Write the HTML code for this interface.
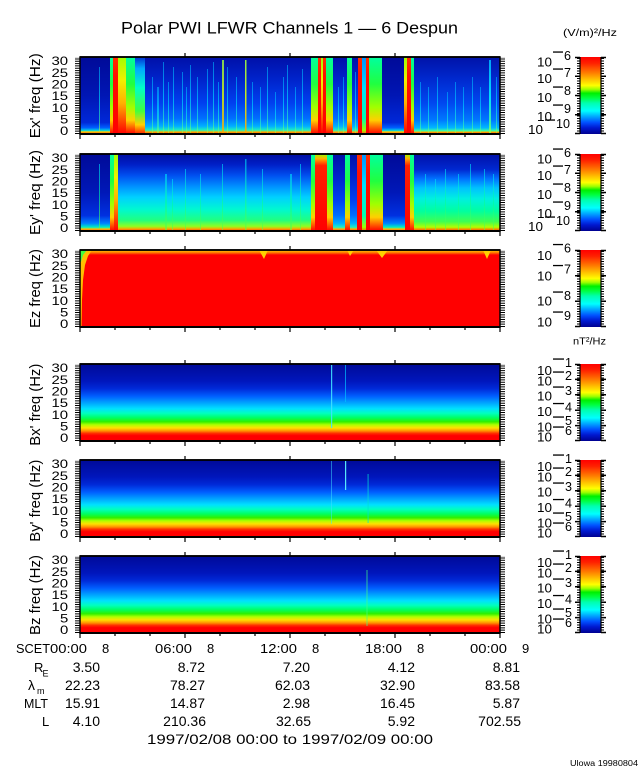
<!DOCTYPE html>
<html><head><meta charset="utf-8">
<style>
html,body{margin:0;padding:0;background:#fff;}
svg{display:block;}
text{font-family:"Liberation Sans",sans-serif;fill:#000;}
</style></head><body>
<svg width="640" height="768" viewBox="0 0 640 768" xmlns="http://www.w3.org/2000/svg">
<defs>
<linearGradient id="cbar" x1="0" y1="0" x2="0" y2="1">
<stop offset="0" stop-color="#ff0000"/><stop offset="0.08" stop-color="#ff2000"/><stop offset="0.2" stop-color="#ff7800"/><stop offset="0.3" stop-color="#ffc800"/><stop offset="0.37" stop-color="#ffff00"/><stop offset="0.42" stop-color="#a0ff00"/><stop offset="0.47" stop-color="#00f000"/><stop offset="0.53" stop-color="#00ff40"/><stop offset="0.6" stop-color="#00ffb0"/><stop offset="0.7" stop-color="#00ffff"/><stop offset="0.78" stop-color="#00a0ff"/><stop offset="0.85" stop-color="#0050ff"/><stop offset="0.92" stop-color="#0018d0"/><stop offset="1" stop-color="#000090"/>
</linearGradient>
<linearGradient id="bX" x1="0" y1="0" x2="0" y2="1">
<stop offset="0" stop-color="#000a98"/><stop offset="0.22" stop-color="#0016bc"/><stop offset="0.32" stop-color="#002ad8"/><stop offset="0.42" stop-color="#0060ff"/><stop offset="0.5" stop-color="#00a0ff"/><stop offset="0.58" stop-color="#00e0ff"/><stop offset="0.64" stop-color="#00ffc0"/><stop offset="0.7" stop-color="#00ff60"/><stop offset="0.75" stop-color="#30f000"/><stop offset="0.79" stop-color="#b0ff00"/><stop offset="0.83" stop-color="#ffe000"/><stop offset="0.87" stop-color="#ff9000"/><stop offset="0.9" stop-color="#ff3000"/><stop offset="0.93" stop-color="#ff0000"/><stop offset="1" stop-color="#ff0000"/>
</linearGradient>
<linearGradient id="qA" x1="0" y1="0" x2="0" y2="1">
<stop offset="0" stop-color="#000a98"/><stop offset="0.5" stop-color="#0016b4"/><stop offset="0.85" stop-color="#0028d8"/><stop offset="0.92" stop-color="#0060ff"/><stop offset="0.955" stop-color="#00d8e0"/><stop offset="0.972" stop-color="#ffd000"/><stop offset="1" stop-color="#ff3000"/>
</linearGradient>
<linearGradient id="mA" x1="0" y1="0" x2="0" y2="1">
<stop offset="0" stop-color="#0010a8"/><stop offset="0.3" stop-color="#0024cc"/><stop offset="0.6" stop-color="#0040f0"/><stop offset="0.8" stop-color="#0070ff"/><stop offset="0.9" stop-color="#00b0ff"/><stop offset="0.95" stop-color="#20f0c0"/><stop offset="0.975" stop-color="#ffb000"/><stop offset="1" stop-color="#ff2000"/>
</linearGradient>
<linearGradient id="rA" x1="0" y1="0" x2="0" y2="1">
<stop offset="0" stop-color="#0012a8"/><stop offset="0.3" stop-color="#002ad0"/><stop offset="0.6" stop-color="#0048f0"/><stop offset="0.82" stop-color="#0078ff"/><stop offset="0.92" stop-color="#00b8ff"/><stop offset="0.96" stop-color="#40ffa0"/><stop offset="0.975" stop-color="#ffb000"/><stop offset="1" stop-color="#ff2000"/>
</linearGradient>
<linearGradient id="red" x1="0" y1="0" x2="0" y2="1">
<stop offset="0" stop-color="#ff3000"/><stop offset="0.25" stop-color="#ff1000"/><stop offset="1" stop-color="#ff0000"/>
</linearGradient>
<linearGradient id="redT" x1="0" y1="0" x2="0" y2="1">
<stop offset="0" stop-color="#90ff00"/><stop offset="0.06" stop-color="#ffb000"/><stop offset="0.15" stop-color="#ff2000"/><stop offset="1" stop-color="#ff0000"/>
</linearGradient>
<linearGradient id="grn" x1="0" y1="0" x2="0" y2="1">
<stop offset="0" stop-color="#00ffa0"/><stop offset="0.35" stop-color="#20ff40"/><stop offset="0.65" stop-color="#a0ff00"/><stop offset="0.82" stop-color="#ffd000"/><stop offset="0.93" stop-color="#ff5000"/><stop offset="1" stop-color="#ff0000"/>
</linearGradient>
<linearGradient id="yel" x1="0" y1="0" x2="0" y2="1">
<stop offset="0" stop-color="#a0ff00"/><stop offset="0.3" stop-color="#f0f000"/><stop offset="0.6" stop-color="#ffb000"/><stop offset="0.85" stop-color="#ff4000"/><stop offset="1" stop-color="#ff0000"/>
</linearGradient>
<linearGradient id="gcl" x1="0" y1="0" x2="0" y2="1">
<stop offset="0" stop-color="#0030d0"/><stop offset="0.15" stop-color="#00a8ff"/><stop offset="0.4" stop-color="#00ffc8"/><stop offset="0.7" stop-color="#40ff40"/><stop offset="0.88" stop-color="#ffd000"/><stop offset="1" stop-color="#ff2000"/>
</linearGradient>
<linearGradient id="cyn" x1="0" y1="0" x2="0" y2="1">
<stop offset="0" stop-color="#0090ff"/><stop offset="0.4" stop-color="#00e0ff"/><stop offset="0.8" stop-color="#00ffb0"/><stop offset="0.95" stop-color="#a0ff00"/><stop offset="1" stop-color="#ff6000"/>
</linearGradient>
<linearGradient id="qB" x1="0" y1="0" x2="0" y2="1">
<stop offset="0" stop-color="#000a98"/><stop offset="0.5" stop-color="#0018b8"/><stop offset="0.8" stop-color="#0030e0"/><stop offset="0.9" stop-color="#0080ff"/><stop offset="0.95" stop-color="#00f0c0"/><stop offset="0.975" stop-color="#ffc000"/><stop offset="1" stop-color="#ff3000"/>
</linearGradient>
<linearGradient id="mB" x1="0" y1="0" x2="0" y2="1">
<stop offset="0" stop-color="#000ea0"/><stop offset="0.14" stop-color="#0020c8"/><stop offset="0.28" stop-color="#0050f0"/><stop offset="0.42" stop-color="#0090ff"/><stop offset="0.56" stop-color="#00d0ff"/><stop offset="0.72" stop-color="#00f8d0"/><stop offset="0.86" stop-color="#20ff80"/><stop offset="0.94" stop-color="#90ff20"/><stop offset="0.975" stop-color="#ffa000"/><stop offset="1" stop-color="#ff2000"/>
</linearGradient>
<linearGradient id="rB" x1="0" y1="0" x2="0" y2="1">
<stop offset="0" stop-color="#0010a8"/><stop offset="0.2" stop-color="#0028d0"/><stop offset="0.32" stop-color="#0070ff"/><stop offset="0.44" stop-color="#00c0ff"/><stop offset="0.58" stop-color="#00f0e0"/><stop offset="0.74" stop-color="#00ffa0"/><stop offset="0.88" stop-color="#40ff50"/><stop offset="0.95" stop-color="#b0ff00"/><stop offset="0.98" stop-color="#ff8000"/><stop offset="1" stop-color="#ff2000"/>
</linearGradient>
<linearGradient id="stk" x1="0" y1="0" x2="0" y2="1">
<stop offset="0" stop-color="#00b0ff"/><stop offset="0.5" stop-color="#00f0ff"/><stop offset="0.85" stop-color="#40ffa0"/><stop offset="1" stop-color="#a0ff40"/>
</linearGradient>
<linearGradient id="stk2" x1="0" y1="0" x2="0" y2="1">
<stop offset="0" stop-color="#00e0ff"/><stop offset="0.5" stop-color="#00ffa0"/><stop offset="1" stop-color="#60ff40"/>
</linearGradient>
<linearGradient id="stkY" x1="0" y1="0" x2="0" y2="1">
<stop offset="0" stop-color="#a0ff40"/><stop offset="0.5" stop-color="#e0ff00"/><stop offset="1" stop-color="#ffa000"/>
</linearGradient>
<linearGradient id="ezT" x1="0" y1="0" x2="0" y2="1">
<stop offset="0" stop-color="#ffd000"/><stop offset="0.5" stop-color="#ff8000"/><stop offset="1" stop-color="#ff0000"/>
</linearGradient>

<g id="ax">
<rect x="80" y="0" width="420" height="77" fill="none" stroke="#000" stroke-width="1.5"/>
<line x1="80" y1="77" x2="500" y2="77" stroke="#000" stroke-width="2"/>
<line x1="80" y1="0" x2="500" y2="0" stroke="#000" stroke-width="1.8"/>
<line x1="77.5" y1="77" x2="77.5" y2="0" stroke="#000" stroke-width="5" stroke-dasharray="1 1.33"/>
<line x1="502.5" y1="77" x2="502.5" y2="0" stroke="#000" stroke-width="5" stroke-dasharray="1 1.33"/>
<path d="M80,77v5M115,77v3M150,77v3M185,77v5M220,77v3M255,77v3M290,77v5M325,77v3M360,77v3M395,77v5M430,77v3M465,77v3M500,77v5M185,0v-4M290,0v-4M395,0v-4" stroke="#000" stroke-width="1.2" fill="none"/>
<g font-size="11.5">
<text x="51.5" y="8.2" textLength="16.6" lengthAdjust="spacingAndGlyphs">30</text>
<text x="51.5" y="19.9" textLength="16.6" lengthAdjust="spacingAndGlyphs">25</text>
<text x="51.5" y="31.5" textLength="16.6" lengthAdjust="spacingAndGlyphs">20</text>
<text x="51.5" y="43.2" textLength="16.6" lengthAdjust="spacingAndGlyphs">15</text>
<text x="51.5" y="54.9" textLength="16.6" lengthAdjust="spacingAndGlyphs">10</text>
<text x="60" y="66.5" textLength="8.3" lengthAdjust="spacingAndGlyphs">5</text>
<text x="60" y="78" textLength="8.3" lengthAdjust="spacingAndGlyphs">0</text>
</g>
</g>

<g id="cb">
<rect x="580" y="0" width="21" height="77" fill="url(#cbar)"/>
<line x1="580" y1="0" x2="580" y2="77" stroke="#000" stroke-width="1.2"/>
<line x1="601" y1="0" x2="601" y2="77" stroke="#000" stroke-width="1.2"/>
<line x1="578.5" y1="77" x2="578.5" y2="0" stroke="#000" stroke-width="3" stroke-dasharray="1 1.5"/>
<line x1="602.5" y1="77" x2="602.5" y2="0" stroke="#000" stroke-width="3" stroke-dasharray="1 1.5"/>
</g>

<g id="elab" font-size="13">
<path d="M575,0.5h5M601,0.5h5M575,19.25h5M601,19.25h5M575,38.5h5M601,38.5h5M575,57.75h5M601,57.75h5M575,76.5h5M601,76.5h5" stroke="#000" stroke-width="1.5"/>
<text x="537" y="9.7" textLength="15" lengthAdjust="spacingAndGlyphs">10</text>
<rect x="553" y="-5.6" width="10" height="1.3"/><text x="564" y="3" textLength="7" lengthAdjust="spacingAndGlyphs">6</text>
<text x="537" y="26" textLength="15" lengthAdjust="spacingAndGlyphs">10</text>
<rect x="553" y="11.4" width="10" height="1.3"/><text x="564" y="20" textLength="7" lengthAdjust="spacingAndGlyphs">7</text>
<text x="537" y="45" textLength="15" lengthAdjust="spacingAndGlyphs">10</text>
<rect x="553" y="29.4" width="10" height="1.3"/><text x="564" y="38" textLength="7" lengthAdjust="spacingAndGlyphs">8</text>
<text x="537" y="64" textLength="15" lengthAdjust="spacingAndGlyphs">10</text>
<rect x="553" y="47.4" width="10" height="1.3"/><text x="564" y="56" textLength="7" lengthAdjust="spacingAndGlyphs">9</text>
<text x="528" y="77" textLength="15" lengthAdjust="spacingAndGlyphs">10</text>
<rect x="545" y="62.4" width="10" height="1.3"/><text x="556" y="71" textLength="14" lengthAdjust="spacingAndGlyphs">10</text>
</g>

<g id="blab" font-size="13">
<path d="M575,0.5h5M601,0.5h5M575,15.4h5M601,15.4h5M575,30.8h5M601,30.8h5M575,46.2h5M601,46.2h5M575,61.6h5M601,61.6h5M575,76.5h5M601,76.5h5" stroke="#000" stroke-width="1.5"/>
<text x="537" y="11" textLength="15" lengthAdjust="spacingAndGlyphs">10</text>
<rect x="553" y="-5.6" width="11" height="1.3"/><text x="565" y="3" textLength="7" lengthAdjust="spacingAndGlyphs">1</text>
<text x="537" y="21.5" textLength="15" lengthAdjust="spacingAndGlyphs">10</text>
<rect x="553" y="7.4" width="11" height="1.3"/><text x="565" y="16" textLength="7" lengthAdjust="spacingAndGlyphs">2</text>
<text x="537" y="36.5" textLength="15" lengthAdjust="spacingAndGlyphs">10</text>
<rect x="553" y="22.4" width="11" height="1.3"/><text x="565" y="31" textLength="7" lengthAdjust="spacingAndGlyphs">3</text>
<text x="537" y="52" textLength="15" lengthAdjust="spacingAndGlyphs">10</text>
<rect x="553" y="38.9" width="11" height="1.3"/><text x="565" y="47.5" textLength="7" lengthAdjust="spacingAndGlyphs">4</text>
<text x="537" y="67.5" textLength="15" lengthAdjust="spacingAndGlyphs">10</text>
<rect x="553" y="52.4" width="11" height="1.3"/><text x="565" y="61" textLength="7" lengthAdjust="spacingAndGlyphs">5</text>
<text x="537" y="77.5" textLength="15" lengthAdjust="spacingAndGlyphs">10</text>
<rect x="553" y="62.4" width="11" height="1.3"/><text x="565" y="71" textLength="7" lengthAdjust="spacingAndGlyphs">6</text>
</g>
</defs>

<rect width="640" height="768" fill="#fff"/>

<!-- Title and units -->
<text x="121" y="33.3" font-size="17" textLength="337" lengthAdjust="spacingAndGlyphs">Polar PWI LFWR Channels 1 — 6 Despun</text>
<text x="563" y="36" font-size="10" textLength="54" lengthAdjust="spacingAndGlyphs">(V/m)²/Hz</text>
<text x="573" y="344.5" font-size="10" textLength="33" lengthAdjust="spacingAndGlyphs">nT²/Hz</text>

<!-- Panel 1: Ex' -->
<g transform="translate(0,57)">
<rect x="80" y="0" width="30" height="77" fill="url(#qA)"/>
<rect x="110" y="0" width="3" height="77" fill="url(#grn)"/>
<rect x="113" y="0" width="5" height="77" fill="url(#red)"/>
<rect x="118" y="0" width="8" height="77" fill="url(#yel)"/>
<rect x="126" y="0" width="9" height="77" fill="url(#grn)"/>
<rect x="135" y="0" width="10" height="77" fill="url(#gcl)"/>
<rect x="145" y="0" width="166" height="77" fill="url(#mA)"/>
<rect x="311" y="0" width="7" height="77" fill="url(#grn)"/>
<rect x="318" y="0" width="3" height="77" fill="url(#red)"/>
<rect x="321" y="0" width="2" height="77" fill="url(#yel)"/>
<rect x="323" y="0" width="3" height="77" fill="url(#red)"/>
<rect x="326" y="0" width="7" height="77" fill="url(#grn)"/>
<rect x="333" y="0" width="14" height="77" fill="url(#mA)"/>
<rect x="347" y="0" width="5" height="77" fill="url(#grn)"/>
<rect x="352" y="0" width="6" height="77" fill="url(#mA)"/>
<rect x="358" y="0" width="4" height="77" fill="url(#red)"/>
<rect x="362" y="0" width="4" height="77" fill="url(#cyn)"/>
<rect x="366" y="0" width="3" height="77" fill="url(#red)"/>
<rect x="369" y="0" width="3" height="77" fill="url(#grn)"/>
<rect x="372" y="0" width="10" height="77" fill="url(#grn)"/>
<rect x="382" y="0" width="22" height="77" fill="url(#qA)"/>
<rect x="404" y="0" width="3" height="77" fill="url(#yel)"/>
<rect x="407" y="0" width="4" height="77" fill="url(#red)"/>
<rect x="411" y="0" width="3" height="77" fill="url(#grn)"/>
<rect x="414" y="0" width="86" height="77" fill="url(#rA)"/>
<g fill="url(#stk)" opacity="0.6">
<rect x="99" y="10" width="1" height="64"/>
<rect x="152" y="20" width="1" height="57"/><rect x="157" y="30" width="2" height="47"/><rect x="163" y="5" width="1" height="72"/>
<rect x="168" y="25" width="1" height="52"/><rect x="173" y="10" width="1" height="67"/><rect x="182" y="15" width="1" height="62"/>
<rect x="186" y="30" width="1" height="47"/><rect x="190" y="8" width="1" height="69"/><rect x="197" y="20" width="1" height="57"/>
<rect x="207" y="12" width="1" height="65"/><rect x="213" y="5" width="1" height="72"/><rect x="218" y="25" width="1" height="52"/>
<rect x="227" y="10" width="1" height="67"/><rect x="236" y="20" width="1" height="57"/>
<rect x="252" y="25" width="1" height="52"/><rect x="260" y="30" width="1" height="47"/><rect x="267" y="10" width="1" height="67"/>
<rect x="275" y="35" width="1" height="42"/><rect x="283" y="20" width="1" height="57"/><rect x="287" y="8" width="1" height="69"/>
<rect x="295" y="30" width="1" height="47"/><rect x="302" y="12" width="1" height="65"/>
<rect x="338" y="30" width="1" height="47"/><rect x="343" y="20" width="1" height="57"/><rect x="355" y="15" width="1" height="62"/>
<rect x="420" y="25" width="1" height="52"/><rect x="428" y="30" width="1" height="47"/><rect x="437" y="20" width="1" height="57"/>
<rect x="447" y="35" width="1" height="42"/><rect x="455" y="25" width="1" height="52"/><rect x="463" y="30" width="1" height="47"/>
<rect x="472" y="20" width="1" height="57"/><rect x="480" y="30" width="1" height="47"/><rect x="496" y="20" width="1" height="57"/>
</g>
<rect x="222" y="3" width="2" height="74" fill="url(#stkY)" opacity="0.8"/>
<rect x="245" y="3" width="1.5" height="74" fill="url(#stkY)" opacity="0.9"/>
<rect x="489" y="3" width="2" height="74" fill="url(#stk)" opacity="0.9"/>
</g>
<use href="#ax" y="57"/>
<use href="#cb" y="57"/>
<use href="#elab" y="57"/>
<text transform="translate(40,138.3) rotate(-90)" font-size="15" textLength="85" lengthAdjust="spacingAndGlyphs">Ex' freq (Hz)</text>

<!-- Panel 2: Ey' -->
<g transform="translate(0,154)">
<rect x="80" y="0" width="30" height="77" fill="url(#qB)"/>
<rect x="110" y="0" width="4" height="77" fill="url(#grn)"/>
<rect x="114" y="0" width="4" height="77" fill="url(#yel)"/>
<rect x="118" y="0" width="193" height="77" fill="url(#mB)"/>
<rect x="311" y="0" width="4" height="77" fill="url(#grn)"/>
<rect x="315" y="0" width="12" height="77" fill="url(#redT)"/>
<rect x="327" y="0" width="6" height="77" fill="url(#grn)"/>
<rect x="333" y="0" width="12" height="77" fill="url(#mA)"/>
<rect x="345" y="0" width="5" height="77" fill="url(#grn)"/>
<rect x="350" y="0" width="7" height="77" fill="url(#mA)"/>
<rect x="357" y="0" width="5" height="77" fill="url(#red)"/>
<rect x="362" y="0" width="4" height="77" fill="url(#cyn)"/>
<rect x="366" y="0" width="4" height="77" fill="url(#red)"/>
<rect x="370" y="0" width="3" height="77" fill="url(#grn)"/>
<rect x="373" y="0" width="10" height="77" fill="url(#grn)"/>
<rect x="383" y="0" width="22" height="77" fill="url(#qB)"/>
<rect x="405" y="0" width="5" height="77" fill="url(#redT)"/>
<rect x="410" y="0" width="4" height="77" fill="url(#grn)"/>
<rect x="414" y="0" width="86" height="77" fill="url(#rB)"/>
<g fill="url(#stk2)" opacity="0.6">
<rect x="99" y="10" width="1" height="64"/>
<rect x="165" y="20" width="2" height="57"/><rect x="172" y="25" width="1" height="52"/><rect x="185" y="15" width="1" height="62"/>
<rect x="200" y="20" width="1" height="57"/><rect x="222" y="10" width="1" height="67"/><rect x="245" y="5" width="1.5" height="72"/>
<rect x="262" y="15" width="1" height="62"/><rect x="290" y="20" width="2" height="57"/><rect x="300" y="10" width="1" height="67"/>
<rect x="425" y="20" width="1" height="57"/><rect x="435" y="25" width="1" height="52"/><rect x="445" y="15" width="1" height="62"/>
<rect x="458" y="20" width="1" height="57"/><rect x="470" y="10" width="1" height="67"/><rect x="484" y="15" width="1" height="62"/>
<rect x="493" y="20" width="1" height="57"/>
</g>
</g>
<use href="#ax" y="154"/>
<use href="#cb" y="154"/>
<use href="#elab" y="154"/>
<text transform="translate(40,235) rotate(-90)" font-size="15" textLength="85" lengthAdjust="spacingAndGlyphs">Ey' freq (Hz)</text>

<!-- Panel 3: Ez -->
<g transform="translate(0,250)">
<rect x="80" y="0" width="420" height="77" fill="#ff0000"/>
<rect x="80" y="0" width="420" height="5" fill="url(#ezT)"/>
<polygon points="80,0 92,0 88,6 85,15 83,30 82,50 81.5,77 80,77" fill="#ffc000"/>
<polygon points="80,0 87,0 83,5 81,12 80,12" fill="#40ff40"/>
<polygon points="259,0 268,0 264,9" fill="#ffd000"/>
<polygon points="347,0 354,0 350,6" fill="#ffd000"/>
<polygon points="376,0 388,0 382,8" fill="#ffd000"/>
<polygon points="483,0 491,0 487,9" fill="#ffd000"/>
</g>
<use href="#ax" y="250"/>
<use href="#cb" y="250"/>
<g transform="translate(0,250)" font-size="13">
<path d="M575,0.5h5M601,0.5h5M575,25.7h5M601,25.7h5M575,51.3h5M601,51.3h5M575,76.5h5M601,76.5h5" stroke="#000" stroke-width="1.5"/>
<text x="537" y="10" textLength="15" lengthAdjust="spacingAndGlyphs">10</text>
<rect x="553" y="-6.1" width="10" height="1.3"/><text x="564" y="2.5" textLength="7" lengthAdjust="spacingAndGlyphs">6</text>
<text x="537" y="30.5" textLength="15" lengthAdjust="spacingAndGlyphs">10</text>
<rect x="553" y="14.9" width="10" height="1.3"/><text x="564" y="23.5" textLength="7" lengthAdjust="spacingAndGlyphs">7</text>
<text x="537" y="55.5" textLength="15" lengthAdjust="spacingAndGlyphs">10</text>
<rect x="553" y="41.4" width="10" height="1.3"/><text x="564" y="50" textLength="7" lengthAdjust="spacingAndGlyphs">8</text>
<text x="537" y="76.5" textLength="15" lengthAdjust="spacingAndGlyphs">10</text>
<rect x="553" y="61.4" width="10" height="1.3"/><text x="564" y="70" textLength="7" lengthAdjust="spacingAndGlyphs">9</text>
</g>
<text transform="translate(40,328) rotate(-90)" font-size="15" textLength="79" lengthAdjust="spacingAndGlyphs">Ez freq (Hz)</text>

<!-- Panel 4: Bx' -->
<g transform="translate(0,364)">
<rect x="80" y="0" width="420" height="77" fill="url(#bX)"/>
<rect x="331" y="1" width="1.2" height="63" fill="#40e0ff" opacity="0.9"/>
<rect x="345" y="1" width="1" height="37" fill="#00c0ff" opacity="0.7"/>
</g>
<use href="#ax" y="364"/>
<use href="#cb" y="364"/>
<use href="#blab" y="364"/>
<text transform="translate(40,445.7) rotate(-90)" font-size="15" textLength="82" lengthAdjust="spacingAndGlyphs">Bx' freq (Hz)</text>

<!-- Panel 5: By' -->
<g transform="translate(0,460)">
<rect x="80" y="0" width="420" height="77" fill="url(#bX)"/>
<rect x="331" y="1" width="1" height="63" fill="#40e0ff" opacity="0.5"/>
<rect x="345" y="1" width="1.2" height="29" fill="#60ffff" opacity="0.9"/>
<rect x="367.5" y="14" width="1.2" height="49" fill="#00e0d0" opacity="0.6"/>
</g>
<use href="#ax" y="460"/>
<use href="#cb" y="460"/>
<use href="#blab" y="460"/>
<text transform="translate(40,541.7) rotate(-90)" font-size="15" textLength="82" lengthAdjust="spacingAndGlyphs">By' freq (Hz)</text>

<!-- Panel 6: Bz -->
<g transform="translate(0,556)">
<rect x="80" y="0" width="420" height="77" fill="url(#bX)"/>
<rect x="366" y="14" width="2" height="56" fill="#40ff80" opacity="0.35"/>
</g>
<use href="#ax" y="556"/>
<use href="#cb" y="556"/>
<use href="#blab" y="556"/>
<text transform="translate(40,635) rotate(-90)" font-size="15" textLength="80" lengthAdjust="spacingAndGlyphs">Bz freq (Hz)</text>

<!-- Bottom annotation rows -->
<g font-size="13">
<text x="16" y="653" textLength="34" lengthAdjust="spacingAndGlyphs">SCET</text>
<text x="50" y="653" textLength="37" lengthAdjust="spacingAndGlyphs">00:00</text><text x="102" y="653">8</text>
<text x="155" y="653" textLength="37" lengthAdjust="spacingAndGlyphs">06:00</text><text x="207" y="653">8</text>
<text x="260" y="653" textLength="37" lengthAdjust="spacingAndGlyphs">12:00</text><text x="312" y="653">8</text>
<text x="365" y="653" textLength="37" lengthAdjust="spacingAndGlyphs">18:00</text><text x="417" y="653">8</text>
<text x="470" y="653" textLength="37" lengthAdjust="spacingAndGlyphs">00:00</text><text x="522" y="653">9</text>
</g>
<text x="34" y="672" font-size="13">R</text><text x="42.5" y="676.5" font-size="9">E</text>
<text x="28" y="690" font-size="14">λ</text><text x="37" y="694" font-size="9">m</text>
<text x="24" y="708" font-size="13" textLength="24" lengthAdjust="spacingAndGlyphs">MLT</text>
<text x="42" y="726" font-size="13">L</text>
<g font-size="14" text-anchor="end">
<text x="100" y="672">3.50</text><text x="205" y="672">8.72</text><text x="310" y="672">7.20</text><text x="415" y="672">4.12</text><text x="520" y="672">8.81</text>
<text x="100" y="690">22.23</text><text x="205" y="690">78.27</text><text x="310" y="690">62.03</text><text x="415" y="690">32.90</text><text x="520" y="690">83.58</text>
<text x="100" y="708">15.91</text><text x="205" y="708">14.87</text><text x="310" y="708">2.98</text><text x="415" y="708">16.45</text><text x="520" y="708">5.87</text>
<text x="100" y="726">4.10</text><text x="206" y="726">210.36</text><text x="311" y="726">32.65</text><text x="415" y="726">5.92</text><text x="521" y="726">702.55</text>
</g>
<text x="147" y="744" font-size="14" textLength="286" lengthAdjust="spacingAndGlyphs">1997/02/08 00:00 to 1997/02/09 00:00</text>
<text x="570" y="766" font-size="8" textLength="68" lengthAdjust="spacingAndGlyphs">Ulowa 19980804</text>
</svg>
</body></html>
